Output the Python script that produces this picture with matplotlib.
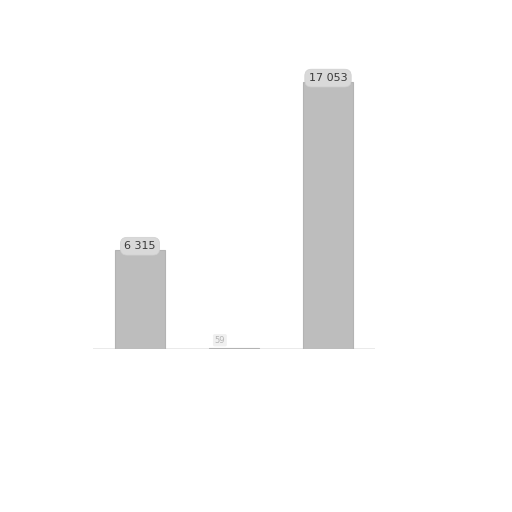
import matplotlib.pyplot as plt

# data
categories = ["A", "B", "C"]
values = [6315, 59, 17053]
labels = ["6 315", "59", "17 053"]

fig = plt.figure(figsize=(5.12, 5.12), dpi=100)
# baseline at y=349 px, bar centres at 140 / 234 / 328 px
ax = fig.add_axes([93 / 512, 163 / 512, 282 / 512, 289 / 512])

x = range(len(categories))
bars = ax.bar(x, values, width=0.53, color="#bdbdbd", edgecolor="#b3b3b3", linewidth=0.8)

ax.set_xlim(-0.5, 2.5)
ax.set_ylim(0, 17053 * 289 / 267)
ax.axis("off")

# baseline shadow
ax.axhline(0, color="#e8e8e8", linewidth=2, zorder=0)

for b, lab, v in zip(bars, labels, values):
    cx = b.get_x() + b.get_width() / 2
    if v > 1000:
        ax.text(cx, v + 250, lab, ha="center", va="center", fontsize=8,
                color="#3a3a3a",
                bbox=dict(boxstyle="round,pad=0.35,rounding_size=0.6",
                          fc="#d9d9d9", ec="#cfcfcf", lw=0.5))
    else:
        ax.text(cx - 0.15, v + 500, lab, ha="center", va="center", fontsize=6,
                color="#b5b5b5",
                bbox=dict(boxstyle="round,pad=0.2", fc="#f0f0f0", ec="none"))

fig.savefig("out.png", dpi=100)
